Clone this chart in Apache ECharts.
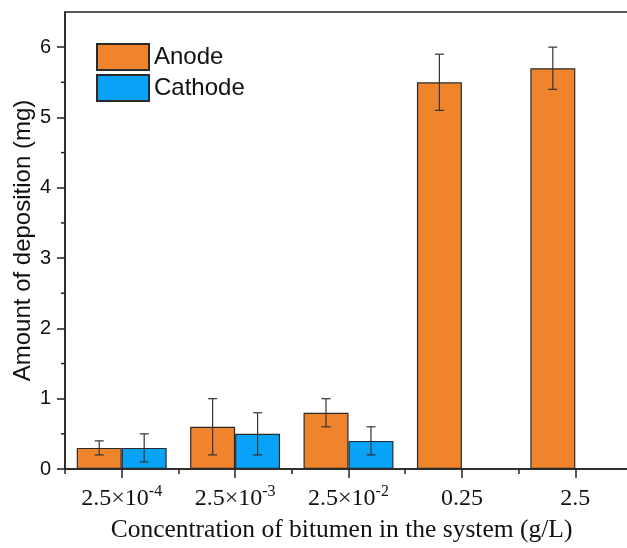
<!DOCTYPE html>
<html>
<head>
<meta charset="utf-8">
<script src="https://cdn.jsdelivr.net/npm/echarts@6/dist/echarts.min.js"></script>
<style>
  html, body { margin: 0; padding: 0; background: #fff; }
  #chart { width: 627px; height: 548px; }
</style>
</head>
<body>
<div id="chart"></div>
<script>
// Bitumen concentration (g/L); '^' marks the exponent part of the label
const categories = ['2.5×10^-4', '2.5×10^-3', '2.5×10^-2', '0.25', '2.5'];

// Deposited mass (mg) and standard error for each electrode
const anodeValues = [0.3, 0.6, 0.8, 5.5, 5.7];
const anodeErrors = [0.1, 0.4, 0.2, 0.4, 0.3];
const cathodeValues = [0.3, 0.5, 0.4, null, null];
const cathodeErrors = [0.2, 0.3, 0.2, null, null];

// Y-axis ticks
const yMajorTicks = [0, 1, 2, 3, 4, 5, 6];
const yMinorTicks = [0.5, 1.5, 2.5, 3.5, 4.5, 5.5];

const SANS = "'Liberation Sans', Arial, sans-serif";
const SERIF = "'Liberation Serif', 'Times New Roman', serif";
const AXIS_COLOR = '#222';
const CATEGORY_GAP = 0.207;   // fraction of the band left empty
const ORANGE = '#F0842C';
const BLUE = '#08A2F6';

// [index, low, high] tuples for the error-bar overlay
function errorData(values, errors) {
  return values.map((v, i) => v == null ? [i, null, null] : [i, v - errors[i], v + errors[i]]);
}

// Draws a capped vertical whisker over the bar at the given slot (-1 left, +1 right)
function errorRenderer(slot) {
  return function (params, api) {
    const lo = api.value(1), hi = api.value(2);
    if (lo == null || hi == null || isNaN(lo) || isNaN(hi)) return null;
    const idx = api.value(0);
    const band = api.size([1, 0])[0];
    const barW = band * (1 - CATEGORY_GAP) / 2;
    const top = api.coord([idx, hi]);
    const bot = api.coord([idx, lo]);
    const x = top[0] + slot * barW / 2;
    const cap = 4.5;
    const style = { stroke: '#333', lineWidth: 1.2 };
    return {
      type: 'group',
      children: [
        { type: 'line', shape: { x1: x, y1: top[1], x2: x, y2: bot[1] }, style: style },
        { type: 'line', shape: { x1: x - cap, y1: top[1], x2: x + cap, y2: top[1] }, style: style },
        { type: 'line', shape: { x1: x - cap, y1: bot[1], x2: x + cap, y2: bot[1] }, style: style }
      ]
    };
  };
}

const chart = echarts.init(document.getElementById('chart'), null, { renderer: 'canvas' });

chart.setOption({
  animation: false,
  backgroundColor: '#fff',
  grid: {
    left: 65, top: 12, width: 567, bottom: 79,
    outerBoundsMode: 'none',
    containLabel: false,
    show: true, borderColor: AXIS_COLOR, borderWidth: 1.5, backgroundColor: 'transparent'
  },
  legend: {
    data: ['Anode', 'Cathode'],
    orient: 'vertical',
    left: 96, top: 43,
    padding: 0,
    itemWidth: 52, itemHeight: 26, itemGap: 3,
    icon: 'rect',
    textStyle: { fontFamily: SANS, fontSize: 24, color: '#111' }
  },
  xAxis: [
    {
      type: 'category',
      data: categories,
      position: 'bottom',
      axisLine: { show: true, lineStyle: { color: AXIS_COLOR, width: 1.5 } },
      axisTick: { show: true, alignWithLabel: true, length: 9, lineStyle: { color: AXIS_COLOR, width: 1.5 } },
      axisLabel: {
        interval: 0,
        hideOverlap: false,
        margin: 15,
        formatter: function (v) {
          const parts = v.split('^');
          return parts.length > 1 ? '{b|' + parts[0] + '}{sup|' + parts[1] + '}' : '{b|' + v + '}';
        },
        rich: {
          b: { fontFamily: SERIF, fontSize: 24, color: '#111', lineHeight: 30 },
          sup: { fontFamily: SERIF, fontSize: 16, color: '#111', padding: [0, 0, 14, 0] }
        }
      },
      name: 'Concentration of bitumen in the system (g/L)',
      nameLocation: 'middle',
      nameGap: 48,
      nameMoveOverlap: false,
      nameTextStyle: { fontFamily: SERIF, fontSize: 25.5, color: '#111', padding: [0, 14, 0, 0] }
    },
    {
      type: 'category',
      data: categories,
      position: 'bottom',
      axisLine: { show: false },
      axisTick: { show: true, length: 5, lineStyle: { color: AXIS_COLOR, width: 1.5 } },
      axisLabel: { show: false }
    }
  ],
  yAxis: {
    type: 'value',
    min: 0, max: 6.5,
    interval: 0.5,
    splitLine: { show: false },
    axisLine: { show: true, lineStyle: { color: AXIS_COLOR, width: 1.5 } },
    axisTick: { show: true, length: 8, customValues: yMajorTicks, lineStyle: { color: AXIS_COLOR, width: 1.5 } },
    minorTick: { show: false },
    axisLabel: {
      customValues: yMajorTicks,
      margin: 14,
      fontFamily: SANS, fontSize: 20, color: '#111'
    },
    name: 'Amount of deposition (mg)',
    nameLocation: 'middle',
    nameGap: 30,
    nameMoveOverlap: false,
    nameTextStyle: { fontFamily: SANS, fontSize: 24, color: '#111' }
  },
  series: [
    {
      name: 'Anode', type: 'bar', xAxisIndex: 0,
      data: anodeValues,
      barGap: '0%', barCategoryGap: (CATEGORY_GAP * 100) + '%',
      itemStyle: { color: ORANGE, borderColor: '#2a2a2a', borderWidth: 1.2 }
    },
    {
      name: 'Cathode', type: 'bar', xAxisIndex: 0,
      data: cathodeValues,
      barGap: '0%', barCategoryGap: (CATEGORY_GAP * 100) + '%',
      itemStyle: { color: BLUE, borderColor: '#2a2a2a', borderWidth: 1.2 }
    },
    {
      name: 'Anode error', type: 'custom', xAxisIndex: 0,
      renderItem: errorRenderer(-1),
      data: errorData(anodeValues, anodeErrors),
      z: 5
    },
    {
      name: 'Cathode error', type: 'custom', xAxisIndex: 0,
      renderItem: errorRenderer(1),
      data: errorData(cathodeValues, cathodeErrors),
      z: 5
    },
    {
      // short ticks for the minor y positions
      name: 'y minor ticks', type: 'custom', xAxisIndex: 0,
      renderItem: function (params, api) {
        const p = api.coord([0, api.value(1)]);
        const x0 = params.coordSys.x;
        return { type: 'line', shape: { x1: x0 - 4, y1: p[1], x2: x0, y2: p[1] },
          style: { stroke: AXIS_COLOR, lineWidth: 1.5 } };
      },
      data: yMinorTicks.map(v => [0, v]),
      clip: false,
      silent: true
    }
  ]
});
</script>
</body>
</html>
